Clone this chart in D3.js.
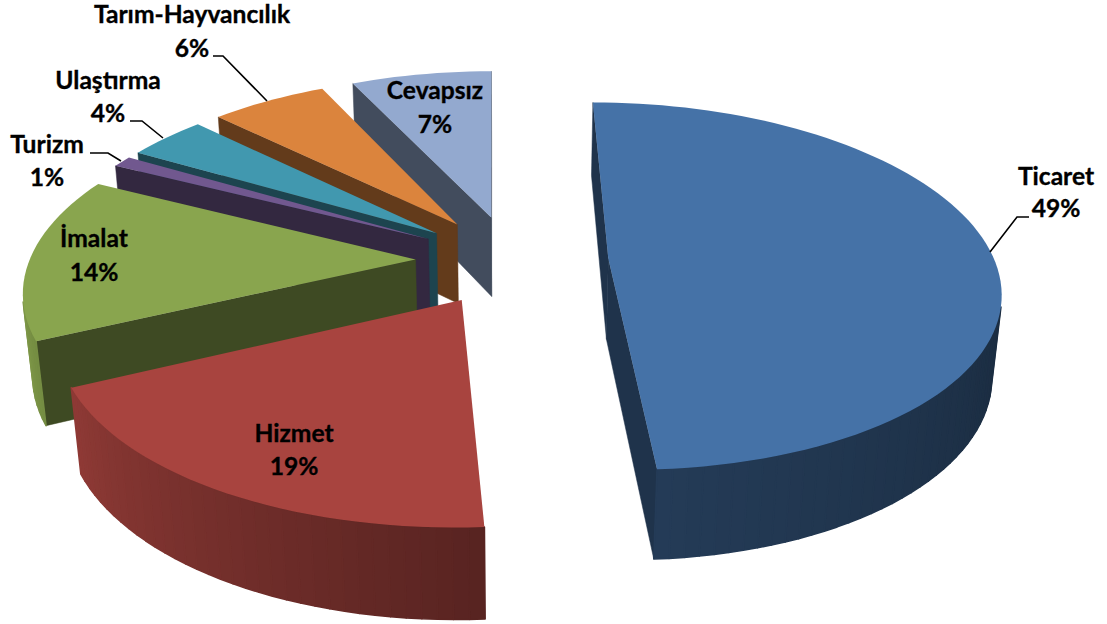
<!DOCTYPE html>
<html><head><meta charset="utf-8">
<style>html,body{margin:0;padding:0;background:#fff}svg{display:block}text{font-family:Lato,"Open Sans",sans-serif;font-weight:700;fill:#000;stroke:#000;stroke-width:.35px;text-anchor:middle}</style>
<script src="https://cdn.jsdelivr.net/npm/d3@7"></script>
</head><body><svg id="c" width="1107" height="624"></svg>
<script>
// Data
const categories=["Ticaret","Hizmet","İmalat","Turizm","Ulaştırma","Tarım-Hayvancılık","Cevapsız"];
const values=[49,19,14.4,1,3.9,5.75,6.95];
const colors=["#4572A7","#A8443F","#89A54E","#71588F","#4198AF","#DB843D","#93A9CF"];
// Label placement (style only): centre x, baseline of the name and of the percentage
const labelX=[1056,294,94,47,108,192,435];
const labelY=[[185,217],[442,475],[247,281],[153,186],[89,122],[23,57],[99,133]];
const leaders=[[[990,252],[1017,217],[1029,217]],null,null,[[121,161],[108,153],[90,153]],[[163,138],[142,121],[130,121]],[[267,101],[223,56],[213,56]],null];
const drawOrder=[6,5,4,3,2,0,1];

// 3D view parameters of the pie
const W=1107,H=624,explode=.25,cx=509.5,cy=260,ax=386,ay=180,perspX=.155,perspY=.15,shear=2.5,depthPx=82.4,depthPersp=.02,stepDeg=2;
const sx=d3.scaleLinear().domain([0,1]).range([cx,cx+ax]);
const project=(X,Y,Z)=>[sx(X/(1+perspX*Y+depthPersp*Z))+shear*(1-Y),cy+(-ay*Y+depthPx*Z)/(1+perspY*Y+depthPersp*Z)];
const shade=d3.scaleLinear().domain([90,176,245,275,360]).range([.36,.52,.85,1,1]);
const wallFactor=.45;
const dim=(c,f)=>{const r=d3.rgb(c);return d3.rgb(r.r*f,r.g*f,r.b*f).formatHex();};

const arcs=d3.pie().sort(null).startAngle(0).endAngle(2*Math.PI)(values);
const svg=d3.select("#c");
const path=d3.line();
const g=svg.append("g");

drawOrder.forEach(i=>{
  const a=arcs[i],mid=(a.startAngle+a.endAngle)/2;
  const ox=explode*Math.sin(mid),oy=explode*Math.cos(mid);
  const pt=(t,r,z)=>project(ox+r*Math.sin(t),oy+r*Math.cos(t),z);
  const n=Math.max(2,Math.ceil((a.endAngle-a.startAngle)*180/Math.PI/stepDeg));
  const ts=d3.range(n+1).map(k=>a.startAngle+(a.endAngle-a.startAngle)*k/n);
  const s=g.append("g");
  const face=(poly,fill,sw)=>{ if(d3.polygonArea(poly)>0) s.append("path").attr("d",path(poly)+"Z").attr("fill",fill).attr("stroke",fill).attr("stroke-width",sw).attr("stroke-linejoin","round"); };
  const wall=dim(colors[i],wallFactor);
  face([pt(0,0,0),pt(a.startAngle,1,0),pt(a.startAngle,1,1),pt(0,0,1)],wall,.5);
  face([pt(a.endAngle,1,0),pt(0,0,0),pt(0,0,1),pt(a.endAngle,1,1)],wall,.5);
  d3.pairs(ts).forEach(([t0,t1])=>{
    const deg=((t0+t1)/2)*180/Math.PI;
    face([pt(t0,1,0),pt(t1,1,0),pt(t1,1,1),pt(t0,1,1)],dim(colors[i],shade(deg)),1.6);
  });
  const top=[pt(0,0,0),...ts.map(t=>pt(t,1,0))];
  s.append("path").attr("d",path(top)+"Z").attr("fill",colors[i]);
});

leaders.forEach(l=>{ if(l) svg.append("path").attr("d",path(l)).attr("fill","none").attr("stroke","#000").attr("stroke-width",1.6); });
const total=d3.sum(values);
categories.forEach((c,i)=>{
  svg.append("text").attr("x",labelX[i]).attr("y",labelY[i][0]).attr("font-size",24.6).text(c);
  svg.append("text").attr("x",labelX[i]).attr("y",labelY[i][1]).attr("font-size",24.6).text(d3.format(".0%")(values[i]/total));
});
</script></body></html>
